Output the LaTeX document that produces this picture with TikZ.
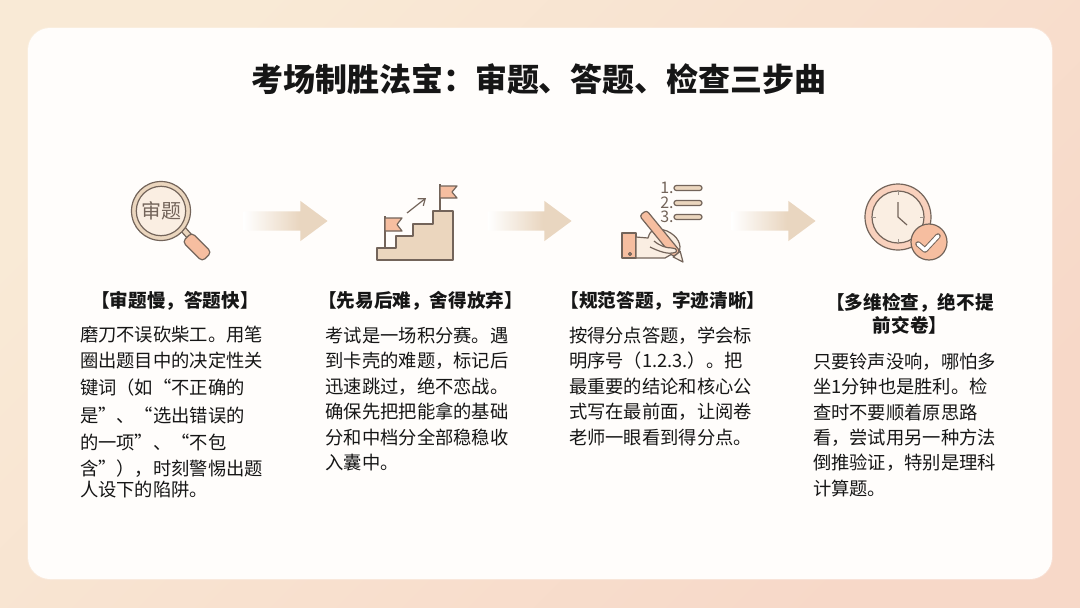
\documentclass[tikz,border=0pt]{standalone}
\usepackage{fontspec}
\setmainfont{Noto Sans CJK SC}
\usepackage{xcolor}
\usetikzlibrary{shapes.arrows, arrows.meta, positioning}
\definecolor{inkblack}{RGB}{22,22,22}
\definecolor{linegray}{RGB}{115,100,90}
\definecolor{bgcream}{RGB}{249,234,214}
\definecolor{bgpink}{RGB}{247,216,200}
\definecolor{paneltint}{RGB}{255,253,251}
\definecolor{arrowtan}{RGB}{233,214,192}
\definecolor{icontan}{RGB}{235,214,190}
\definecolor{iconcream}{RGB}{250,238,226}
\definecolor{iconsalmon}{RGB}{246,190,160}
\pgfdeclarehorizontalshading{arrowfade}{100bp}{color(0bp)=(white); color(25bp)=(white); color(58bp)=(arrowtan); color(100bp)=(arrowtan)}
\tikzset{
    titletext/.style={inner sep=0pt, font=\fontsize{32}{36}\selectfont\bfseries, text=inkblack},
    headtext/.style={inner sep=0pt, align=center, font=\fontsize{18.6}{23}\selectfont\bfseries, text=inkblack},
    bodytext/.style={inner sep=0pt, text width=190pt, align=left, font=\fontsize{18.3}{25.4}\selectfont, text=inkblack},
    flowarrow/.style={single arrow, inner sep=0pt, minimum height=84pt,
                      single arrow head extend=10.5pt, single arrow tip angle=73, shading=arrowfade},
    iconline/.style={draw=linegray, line width=1.2pt, line join=round}
}
\begin{document}
\begin{tikzpicture}[x=1pt, y=-1pt]
    \useasboundingbox (0,0) rectangle (1080,608);
    \shade[top color=bgcream, bottom color=bgpink, shading angle=45] (0,0) rectangle (1080,608);
    \fill[white, opacity=0.2, rounded corners=23pt] (27,27) rectangle (1053,580);
    \fill[paneltint, rounded corners=22pt] (28,28) rectangle (1052,579);

    \node[titletext] (title) at (539,79.5) {考场制胜法宝：审题、答题、检查三步曲};

    % magnifier
    \draw[iconline, fill=icontan] (180,230) -- (184,226) -- (192,235) -- (188,239) -- cycle;
    \draw[iconline, fill=iconsalmon, rounded corners=4pt, rotate around={-45:(197,247)}] (183,240.5) rectangle (211,253.5);
    \draw[iconline, fill=icontan] (161,211) circle (29.5);
    \draw[iconline, fill=iconcream] (161,211) circle (24.7);
    \node[inner sep=0pt, font=\fontsize{20}{20}\selectfont, text=linegray] (lens) at (161,211) {审题};

    % stairs
    \draw[iconline, fill=icontan] (377,260) -- (377,248) -- (396,248) -- (396,236) -- (413,236) -- (413,224) -- (433,224) -- (433,211) -- (453,211) -- (453,260) -- cycle;
    \draw[iconline] (385,248) -- (385,216);
    \draw[iconline, fill=iconsalmon] (385,218) -- (402,218) -- (397,224.5) -- (402,231) -- (385,231) -- cycle;
    \draw[iconline] (440,211) -- (440,184);
    \draw[iconline, fill=iconsalmon] (440,186) -- (457,186) -- (452,192) -- (457,198) -- (440,198) -- cycle;
    \draw[iconline, -{Straight Barb[length=6pt,width=9pt]}] (407,213) -- (426,198);

    % hand and list
    \foreach \i/\y in {1/188,2/203,3/217} {
        \node[inner sep=0pt, font=\fontsize{16}{16}\selectfont, text=linegray] (num\i) at (667,\y) {\i.};
        \draw[iconline, fill=icontan, rounded corners=2.4pt] (674,\y-2.5) rectangle (702,\y+2.5);
    }
    \draw[iconline, fill=iconsalmon] (622,233) rectangle (636,258);
    \draw[iconline] (630,254) circle (1.5);
    \draw[iconline, fill=iconcream] (636,237) -- (648,238) .. controls (650,232) .. (657,228) -- (667,231) .. controls (678,236) and (682,245) .. (679,252) -- (672,254) -- (665,258) -- (636,258) -- cycle;
    \draw[iconline, fill=iconsalmon, rounded corners=3pt] (646.5,210.2) -- (680.2,251.4) -- (673.2,257) -- (639.5,215.8) -- cycle;
    \draw[iconline, fill=iconcream] (680.2,251.4) -- (683,262) -- (673.2,257) -- cycle;
    \draw[iconline, fill=iconcream] (654,241) .. controls (660,246) and (666,248) .. (672,248) .. controls (678,248) and (678,253) .. (673,253) .. controls (668,254) and (660,252) .. (650,247);

    % clock
    \draw[iconline, fill=iconsalmon!70!white] (898,217) circle (33);
    \draw[iconline, fill=iconcream] (898,217) circle (26);
    \draw[iconline] (898,202) -- (898,217) -- (907,225);
    \foreach \a in {0,90,180,270} {
        \draw[linegray!70, line width=1pt] (898,217) ++(\a:22) -- ++(\a:4);
    }
    \draw[iconline, fill=iconsalmon] (929,242) circle (18);
    \draw[linegray, line width=5.5pt, line join=round, line cap=round] (918,244) -- (925,250) -- (938,236);
    \draw[white, line width=3.5pt, line join=round, line cap=round] (918,244) -- (925,250) -- (938,236);

    % flow arrows
    \node[flowarrow] (arrowone) at (279,221) {\rule{0pt}{19pt}};
    \node[flowarrow] (arrowtwo) at (523,221) {\rule{0pt}{19pt}};
    \node[flowarrow] (arrowthree) at (767,221) {\rule{0pt}{19pt}};

    \node[headtext] (headone) at (175,301) {【审题慢，答题快】};
    \node[bodytext, below=15pt of headone] (bodyone) {磨刀不误砍柴工。用笔\\[1pt]圈出题目中的决定性关\\[1pt]键词（如“不正确的\\[3pt]是”、“选出错误的\\[2pt]的一项”、“不包\\含”），时刻警惕出题\\[-4pt]人设下的陷阱。};
    \node[headtext] (headtwo) at (420.5,301) {【先易后难，舍得放弃】};
    \node[bodytext, below=16pt of headtwo] (bodytwo) {考试是一场积分赛。遇\\到卡壳的难题，标记后\\迅速跳过，绝不恋战。\\确保先把把能拿的基础\\分和中档分全部稳稳收\\入囊中。};
    \node[headtext] (headthree) at (663,301) {【规范答题，字迹清晰】};
    \node[bodytext, below=16pt of headthree, xshift=1pt] (bodythree) {按得分点答题，学会标\\明序号（1.2.3.）。把\\最重要的结论和核心公\\式写在最前面，让阅卷\\老师一眼看到得分点。};
    \node[headtext] (headfour) at (910,314) {【多维检查，绝不提\\前交卷】};
    \node[bodytext, below=18pt of headfour, xshift=-2pt] (bodyfour) {只要铃声没响，哪怕多\\坐1分钟也是胜利。检\\查时不要顺着原思路\\看，尝试用另一种方法\\倒推验证，特别是理科\\计算题。};
\end{tikzpicture}
\end{document}
